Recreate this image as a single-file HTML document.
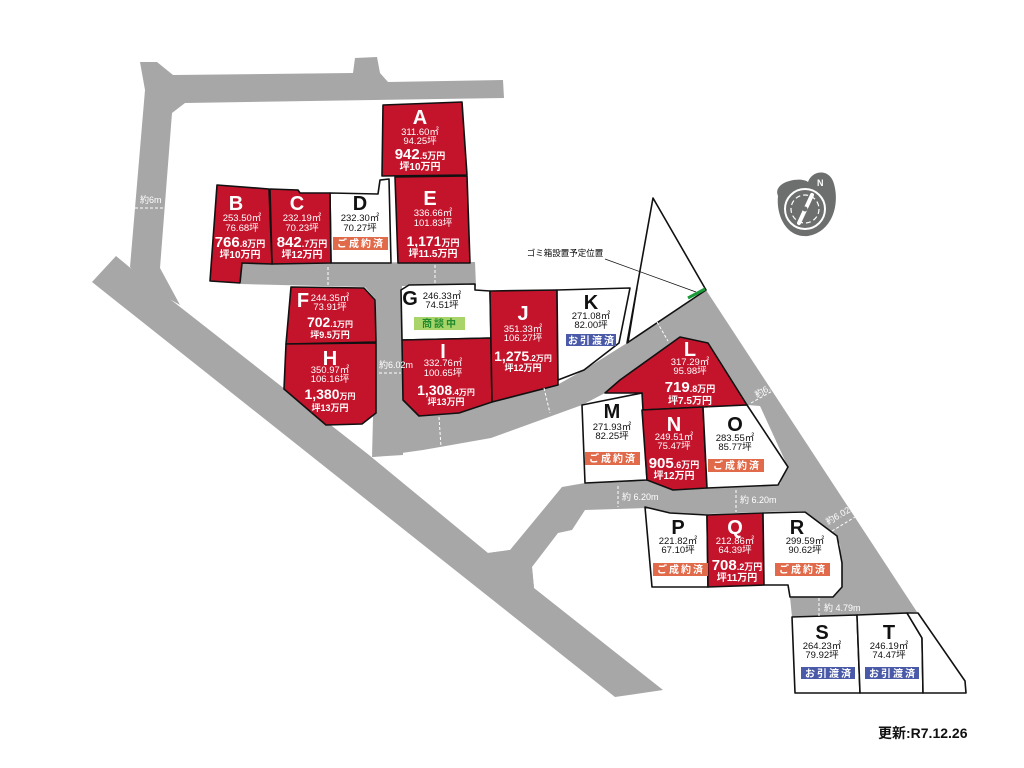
<!DOCTYPE html>
<html><head><meta charset="utf-8"><style>
html,body{margin:0;padding:0;background:#fff;}
svg{display:block;font-family:"Liberation Sans","Noto Sans CJK JP",sans-serif;}
.r{fill:#c4142c;stroke:#111;stroke-width:1.6;stroke-linejoin:round}
.w{fill:#fff;stroke:#111;stroke-width:1.6;stroke-linejoin:round}
.g{fill:#a6a7a6}
.L{font-size:20px;font-weight:bold;text-anchor:middle}
.a{font-size:9.5px;text-anchor:middle}
.p{font-weight:bold;text-anchor:middle;fill:#fff;stroke:#c4142c;stroke-width:2.4;paint-order:stroke;}
.dl{fill:#fff;font-size:9px}
.da{stroke:#fff;stroke-width:1;stroke-dasharray:3,2;fill:none}
</style></head><body>
<svg width="1024" height="768" viewBox="0 0 1024 768" xmlns="http://www.w3.org/2000/svg">
<!-- roads -->
<polygon class="g" points="140,62 157,62 173,75 353,73 355,58 377,57 380,73 388,82 503,80 504,98 185,103 172,113 160,268 180,305 145,285 130,267 145,90"/>
<polygon class="g" points="92,282 116,256 145,280 175,303 369,455 488,553 510,550 532,567 534,588 663,690 615,697"/>
<polygon class="g" points="488,553 510,550 562,487 585,483 585,510 572,530 558,533 532,567 534,588 500,590"/>
<polygon class="g" points="241,263 475,262 476,286 402,286 403,455 372,457 376,300 365,287 241,284"/>
<polygon class="g" points="376,415 403,400 419,415 459,413 492,402 557,385 584,370 627,343 706,290 917,612 792,617 790,597 833,597 842,587 840,544 805,511 763,512 707,514 670,516 647,508 585,510 585,483 620,482 647,480 673,489 707,487 780,484 787,465 760,406 747,405 708,343 680,337 620,380 605,393 582,405 491,438 423,450 373,457"/>

<!-- lots -->
<polygon class="r" points="383,105 462,102 467,175 382,176"/>
<polygon class="r" points="395,177 467,176 470,263 398,263"/>
<polygon class="w" points="330,193 378,194 380,180 389,179 391,263 331,263"/>
<polygon class="r" points="270,189 298,190 300,193 330,193 331,263 272,264"/>
<polygon class="r" points="217,185 269,189 272,264 242,263 240,283 210,281"/>
<polygon class="r" points="291,287 364,288 375,300 376,342 286,344"/>
<polygon class="r" points="286,344 376,343 376,413 362,424 326,425 284,389"/>
<polygon class="w" points="401,290 409,285 475,284 475,290 490,291 491,338 402,340"/>
<polygon class="r" points="402,340 491,338 492,402 459,413 419,416 403,400"/>
<polygon class="r" points="490,291 557,290 558,385 492,402"/>
<polygon class="w" points="557,290 630,288 619,343 584,370 558,380"/>
<polygon class="w" points="653,198 706,290 627,343"/>
<line x1="637" y1="288" x2="628" y2="343" stroke="#111" stroke-width="1.4"/>
<polygon class="r" points="605,393 620,380 680,337 708,343 747,405 703,407 642,410 642,393"/>
<polygon class="w" points="582,405 642,393 647,480 585,483"/>
<polygon class="r" points="642,410 703,407 707,488 673,490 647,480"/>
<polygon class="w" points="703,407 747,405 788,467 778,485 707,488"/>
<polygon class="w" points="645,507 670,513 707,515 708,587 652,587"/>
<polygon class="r" points="707,515 763,513 764,585 708,587"/>
<polygon class="w" points="763,513 805,512 837,536 842,563 842,587 833,597 790,597 788,585 764,585"/>
<polygon class="w" points="792,617 857,615 860,693 795,693"/>
<polygon class="w" points="857,615 907,613 922,638 923,693 860,693"/>
<polygon class="w" points="907,613 918,613 965,681 966,693 923,693 922,638"/>

<!-- gomi -->
<line x1="605" y1="259" x2="696" y2="292" stroke="#111" stroke-width="0.8"/>
<line x1="688" y1="298" x2="705" y2="289" stroke="#1a9a3a" stroke-width="3"/>
<text x="565" y="256" font-size="8.5" text-anchor="middle">ゴミ箱設置予定位置</text>

<!-- compass -->
<g>
<path d="M778,196 C772,182 800,176 808,182 C812,170 830,168 834,184 C840,205 832,232 808,236 C786,238 776,215 778,196 Z" fill="#6d6e6e"/>
<circle cx="805" cy="209" r="20" fill="none" stroke="#fff" stroke-width="2"/>
<circle cx="805" cy="209" r="14" fill="none" stroke="#fff" stroke-width="1.2" stroke-dasharray="5,3"/>
<line x1="799" y1="223" x2="812" y2="195" stroke="#fff" stroke-width="4" stroke-linecap="round"/>
<circle cx="805" cy="209" r="2.5" fill="#6d6e6e"/>
<text x="817" y="186" fill="#fff" font-size="9" font-weight="bold">N</text>
</g>

<!-- distances -->
<text class="dl" x="140" y="203">約6m</text>
<line class="da" x1="135" y1="208" x2="163" y2="208"/>
<line class="da" x1="328" y1="267" x2="328" y2="286"/>
<line class="da" x1="435" y1="265" x2="435" y2="284"/>
<text class="dl" x="379" y="368" font-size="7">約6.02m</text>
<line class="da" x1="379" y1="373" x2="401" y2="373"/>
<line class="da" x1="360" y1="427" x2="372" y2="455"/>
<line class="da" x1="439" y1="417" x2="441" y2="447"/>
<line class="da" x1="544" y1="388" x2="550" y2="413"/>
<line class="da" x1="657" y1="322" x2="668" y2="341"/>
<text class="dl" x="757" y="398" font-size="7" transform="rotate(-30 757 398)">約6.02m</text>
<line class="da" x1="751" y1="403" x2="776" y2="389"/>
<text class="dl" x="828" y="525" font-size="7" transform="rotate(-30 828 525)">約6.02m</text>
<line class="da" x1="832" y1="531" x2="855" y2="517"/>
<text class="dl" x="622" y="500" font-size="10">約 6.20m</text>
<line class="da" x1="618" y1="486" x2="618" y2="507"/>
<text class="dl" x="740" y="503" font-size="10">約 6.20m</text>
<line class="da" x1="736" y1="490" x2="736" y2="512"/>
<text class="dl" x="824" y="611" font-size="10">約 4.79m</text>
<line class="da" x1="819" y1="598" x2="819" y2="616"/>

<!-- labels -->
<g fill="#fff">
<text class="L" x="420" y="124">A</text><text class="a" x="420" y="135" font-size="8">311.60㎡</text><text class="a" x="420" y="144" font-size="8">94.25坪</text>
<text class="L" x="236" y="210">B</text><text class="a" x="242" y="221">253.50㎡</text><text class="a" x="242" y="231">76.68坪</text>
<text class="L" x="297" y="210">C</text><text class="a" x="302" y="221">232.19㎡</text><text class="a" x="302" y="231">70.23坪</text>
<text class="L" x="430" y="205">E</text><text class="a" x="433" y="216">336.66㎡</text><text class="a" x="433" y="226">101.83坪</text>
<text class="L" x="303" y="307">F</text><text class="a" x="330" y="301">244.35㎡</text><text class="a" x="330" y="310">73.91坪</text>
<text class="L" x="330" y="365">H</text><text class="a" x="330" y="373">350.97㎡</text><text class="a" x="330" y="382">106.16坪</text>
<text class="L" x="443" y="358">I</text><text class="a" x="443" y="366">332.76㎡</text><text class="a" x="443" y="376">100.65坪</text>
<text class="L" x="523" y="320">J</text><text class="a" x="523" y="332">351.33㎡</text><text class="a" x="523" y="341">106.27坪</text>
<text class="L" x="690" y="356">L</text><text class="a" x="690" y="365">317.29㎡</text><text class="a" x="690" y="374">95.98坪</text>
<text class="L" x="674" y="431">N</text><text class="a" x="674" y="440">249.51㎡</text><text class="a" x="674" y="449">75.47坪</text>
<text class="L" x="735" y="534">Q</text><text class="a" x="735" y="544">212.86㎡</text><text class="a" x="735" y="553">64.39坪</text>
</g>
<g fill="#111">
<text class="L" x="360" y="210">D</text><text class="a" x="360" y="221">232.30㎡</text><text class="a" x="360" y="231">70.27坪</text>
<text class="L" x="410" y="305">G</text><text class="a" x="442" y="299">246.33㎡</text><text class="a" x="442" y="308">74.51坪</text>
<text class="L" x="591" y="309">K</text><text class="a" x="591" y="319">271.08㎡</text><text class="a" x="591" y="328">82.00坪</text>
<text class="L" x="612" y="418">M</text><text class="a" x="612" y="430">271.93㎡</text><text class="a" x="612" y="439">82.25坪</text>
<text class="L" x="735" y="431">O</text><text class="a" x="735" y="441">283.55㎡</text><text class="a" x="735" y="450">85.77坪</text>
<text class="L" x="678" y="534">P</text><text class="a" x="678" y="544">221.82㎡</text><text class="a" x="678" y="553">67.10坪</text>
<text class="L" x="797" y="534">R</text><text class="a" x="805" y="544">299.59㎡</text><text class="a" x="805" y="553">90.62坪</text>
<text class="L" x="822" y="639">S</text><text class="a" x="822" y="649">264.23㎡</text><text class="a" x="822" y="658">79.92坪</text>
<text class="L" x="889" y="639">T</text><text class="a" x="889" y="649">246.19㎡</text><text class="a" x="889" y="658">74.47坪</text>
</g>

<!-- prices -->
<g>
<text class="p" x="420" y="159"><tspan font-size="15">942</tspan><tspan font-size="9">.5万円</tspan></text><text class="p" x="420" y="170" font-size="10">坪10万円</text>
<text class="p" x="240" y="247"><tspan font-size="15">766</tspan><tspan font-size="9">.8万円</tspan></text><text class="p" x="240" y="258" font-size="10">坪10万円</text>
<text class="p" x="302" y="247"><tspan font-size="15">842</tspan><tspan font-size="9">.7万円</tspan></text><text class="p" x="302" y="258" font-size="10">坪12万円</text>
<text class="p" x="433" y="246"><tspan font-size="14">1,171</tspan><tspan font-size="9">万円</tspan></text><text class="p" x="433" y="257" font-size="10">坪11.5万円</text>
<text class="p" x="330" y="327"><tspan font-size="14">702</tspan><tspan font-size="8">.1万円</tspan></text><text class="p" x="330" y="338" font-size="9">坪9.5万円</text>
<text class="p" x="330" y="399"><tspan font-size="14">1,380</tspan><tspan font-size="8">万円</tspan></text><text class="p" x="330" y="411" font-size="9">坪13万円</text>
<text class="p" x="446" y="395"><tspan font-size="14">1,308</tspan><tspan font-size="8">.4万円</tspan></text><text class="p" x="446" y="405" font-size="9">坪13万円</text>
<text class="p" x="523" y="361"><tspan font-size="14">1,275</tspan><tspan font-size="8">.2万円</tspan></text><text class="p" x="523" y="371" font-size="9">坪12万円</text>
<text class="p" x="690" y="392"><tspan font-size="15">719</tspan><tspan font-size="9">.8万円</tspan></text><text class="p" x="690" y="404" font-size="10">坪7.5万円</text>
<text class="p" x="674" y="468"><tspan font-size="15">905</tspan><tspan font-size="9">.6万円</tspan></text><text class="p" x="674" y="479" font-size="10">坪12万円</text>
<text class="p" x="737" y="570"><tspan font-size="15">708</tspan><tspan font-size="9">.2万円</tspan></text><text class="p" x="737" y="581" font-size="10">坪11万円</text>
</g>

<!-- stamps -->
<g font-size="10" font-weight="bold" text-anchor="middle" letter-spacing="2">
<rect x="333" y="237" width="55" height="13" fill="#e06a4a"/><text x="361" y="247" fill="#fff">ご成約済</text>
<rect x="585" y="452" width="55" height="13" fill="#e06a4a"/><text x="613" y="462" fill="#fff">ご成約済</text>
<rect x="708" y="459" width="56" height="13" fill="#e06a4a"/><text x="737" y="469" fill="#fff">ご成約済</text>
<rect x="653" y="563" width="55" height="13" fill="#e06a4a"/><text x="681" y="573" fill="#fff">ご成約済</text>
<rect x="775" y="563" width="55" height="13" fill="#e06a4a"/><text x="803" y="573" fill="#fff">ご成約済</text>
<rect x="414" y="317" width="51" height="13" fill="#a8d46a"/><text x="440" y="327" fill="#1f8a2c">商談中</text>
<rect x="566" y="334" width="50" height="12" fill="#4a5aa8"/><text x="592" y="344" fill="#fff">お引渡済</text>
<rect x="801" y="667" width="54" height="12" fill="#4a5aa8"/><text x="829" y="677" fill="#fff">お引渡済</text>
<rect x="865" y="667" width="54" height="12" fill="#4a5aa8"/><text x="893" y="677" fill="#fff">お引渡済</text>
</g>

<text x="878" y="738" font-size="14" font-weight="bold" fill="#111">更新:R7.12.26</text>
</svg>
</body></html>
